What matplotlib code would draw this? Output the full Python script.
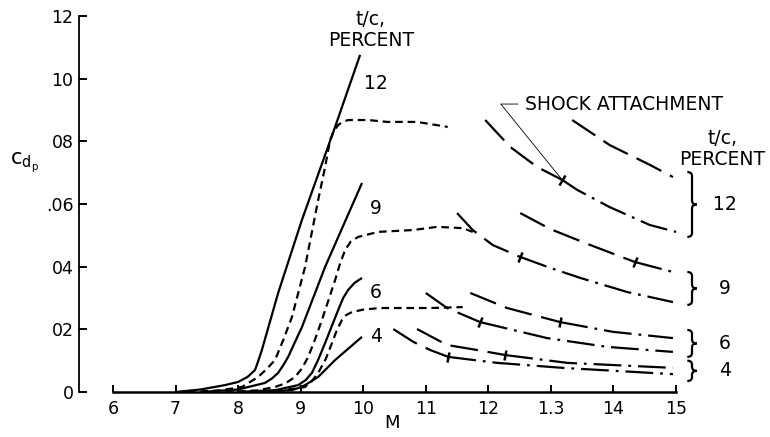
import numpy as np
import matplotlib
matplotlib.use('Agg')
import matplotlib.pyplot as plt
from matplotlib.markers import MarkerStyle
from matplotlib.transforms import Affine2D
from matplotlib.path import Path
from matplotlib.patches import PathPatch

plt.rcParams['font.family'] = ['DejaVu Sans']
plt.rcParams['mathtext.fontset'] = 'dejavusans'
plt.rcParams['lines.scale_dashes'] = False

# ---------------- data ----------------
x_ticks = [0.6, 0.7, 0.8, 0.9, 1.0, 1.1, 1.2, 1.3, 1.4, 1.5]
x_tick_labels = ['6', '7', '8', '9', '10', '11', '12', '1.3', '14', '15']
y_ticks = [0.0, 0.02, 0.04, 0.06, 0.08, 0.10, 0.12]
y_tick_labels = ['0', '02', '04', '.06', '08', '10', '12']

# subsonic, solid
m_solid_12 = [0.70, 0.74, 0.779, 0.800, 0.815, 0.827, 0.832, 0.838, 0.864, 0.902, 0.955, 0.995]
c_solid_12 = [0.0, 0.0008, 0.0022, 0.0032, 0.0048, 0.0070, 0.0098, 0.0134, 0.0316, 0.0549,
              0.0846, 0.1076]
m_solid_9 = [0.74, 0.80, 0.843, 0.854, 0.864, 0.872, 0.880, 0.891, 0.902, 0.939, 0.998]
c_solid_9 = [0.0, 0.0008, 0.0029, 0.0043, 0.0061, 0.0085, 0.0112, 0.0160, 0.0207, 0.0399, 0.0667]
m_solid_6 = [0.80, 0.86, 0.896, 0.908, 0.918, 0.928, 0.939, 0.960, 0.968, 0.976, 0.986, 0.998]
c_solid_6 = [0.0, 0.0006, 0.0022, 0.0038, 0.0061, 0.0103, 0.0156, 0.0262, 0.0300, 0.0326,
             0.0348, 0.0364]
m_solid_4 = [0.82, 0.886, 0.897, 0.907, 0.928, 0.955, 0.998]
c_solid_4 = [0.0, 0.0006, 0.0013, 0.0022, 0.0048, 0.0102, 0.0176]

# subsonic, dashed
m_dash_12 = [0.72, 0.77, 0.806, 0.832, 0.845, 0.859, 0.872, 0.886, 0.907, 0.928, 0.939, 0.947,
             0.953, 0.960, 0.967, 0.976, 1.008, 1.038, 1.086, 1.135]
c_dash_12 = [0.0, 0.0005, 0.0016, 0.0048, 0.0072, 0.0102, 0.0165, 0.0239, 0.0399, 0.0613,
             0.0718, 0.0804, 0.0833, 0.0852, 0.0862, 0.0868, 0.0868, 0.0862, 0.0862, 0.0846]
m_dash_9 = [0.78, 0.83, 0.859, 0.876, 0.891, 0.902, 0.912, 0.923, 0.934, 0.955, 0.963, 0.971,
            0.980, 0.992, 1.024, 1.080, 1.118, 1.159, 1.175]
c_dash_9 = [0.0, 0.0005, 0.0016, 0.0028, 0.0048, 0.0075, 0.0112, 0.0168, 0.0230, 0.0357,
            0.0410, 0.0453, 0.0480, 0.0495, 0.0511, 0.0517, 0.0527, 0.0523, 0.0511]
m_dash_6 = [0.82, 0.87, 0.907, 0.918, 0.928, 0.940, 0.950, 0.958, 0.966, 0.973, 0.982, 1.000,
            1.027, 1.107, 1.159]
c_dash_6 = [0.0, 0.0005, 0.0016, 0.0035, 0.0061, 0.0105, 0.0156, 0.0198, 0.0230, 0.0246,
            0.0255, 0.0263, 0.0268, 0.0268, 0.0271]

# supersonic curves (A = left family, B = right family)
m_sup_12a = [1.195, 1.235, 1.278, 1.318, 1.342, 1.394, 1.458, 1.500]
c_sup_12a = [0.0868, 0.0782, 0.0718, 0.0677, 0.0645, 0.0590, 0.0533, 0.0511]
m_sup_12b = [1.334, 1.394, 1.458, 1.495]
c_sup_12b = [0.0868, 0.0788, 0.0725, 0.0686]
m_sup_9a = [1.150, 1.175, 1.207, 1.251, 1.299, 1.347, 1.422, 1.495]
c_sup_9a = [0.0571, 0.0517, 0.0469, 0.0431, 0.0396, 0.0364, 0.0319, 0.0287]
m_sup_9b = [1.251, 1.299, 1.363, 1.434, 1.495]
c_sup_9b = [0.0571, 0.0520, 0.0469, 0.0415, 0.0383]
m_sup_6a = [1.100, 1.134, 1.187, 1.294, 1.390, 1.495]
c_sup_6a = [0.0316, 0.0268, 0.0223, 0.0172, 0.0144, 0.0128]
m_sup_6b = [1.171, 1.230, 1.315, 1.399, 1.495]
c_sup_6b = [0.0316, 0.0268, 0.0223, 0.0192, 0.0172]
m_sup_4a = [1.048, 1.080, 1.107, 1.136, 1.214, 1.319, 1.495]
c_sup_4a = [0.0201, 0.0160, 0.0134, 0.0112, 0.0093, 0.0077, 0.0057]
m_sup_4b = [1.086, 1.134, 1.182, 1.227, 1.326, 1.495]
c_sup_4b = [0.0201, 0.0150, 0.0134, 0.0118, 0.0093, 0.0077]

# shock attachment Mach numbers (None = beyond chart)
shock_12a, shock_12b = 1.318, None
shock_9a, shock_9b = 1.251, 1.434
shock_6a, shock_6b = 1.187, 1.315
shock_4a, shock_4b = 1.136, 1.227

# right-hand brackets: (label, bottom cdp, top cdp)
bracket_labels = ['12', '9', '6', '4']
bracket_bottoms = [0.0495, 0.0278, 0.0112, 0.0035]
bracket_tops = [0.0702, 0.0383, 0.0198, 0.0100]

# ---------------- figure ----------------
W, H, DPI = 770, 437, 100
fig = plt.figure(figsize=(W / DPI, H / DPI), dpi=DPI)
ax = fig.add_axes([79 / W, 1 - 392 / H, 601 / W, 376 / H])
ax.set_xlim(0.5457, 1.5063)
ax.set_ylim(0.0, 0.12)

LW = 1.6
SHORT = (5.5, 3.5)
LONG = (20, 7)
DASHDOT = (20, 5, 2, 5)

for m, c in [(m_solid_12, c_solid_12), (m_solid_9, c_solid_9),
             (m_solid_6, c_solid_6), (m_solid_4, c_solid_4)]:
    ax.plot(m, c, color='black', lw=LW, solid_capstyle='butt', solid_joinstyle='round')

for m, c in [(m_dash_12, c_dash_12), (m_dash_9, c_dash_9), (m_dash_6, c_dash_6)]:
    ax.plot(m, c, color='black', lw=LW, dashes=SHORT)

sup = [(m_sup_12a, c_sup_12a, shock_12a), (m_sup_12b, c_sup_12b, shock_12b),
       (m_sup_9a, c_sup_9a, shock_9a), (m_sup_9b, c_sup_9b, shock_9b),
       (m_sup_6a, c_sup_6a, shock_6a), (m_sup_6b, c_sup_6b, shock_6b),
       (m_sup_4a, c_sup_4a, shock_4a), (m_sup_4b, c_sup_4b, shock_4b)]

for m, c, ms in sup:
    m = np.asarray(m)
    c = np.asarray(c)
    if ms is None:
        ax.plot(m, c, color='black', lw=LW, dashes=LONG)
        continue
    k = int(np.argmin(np.abs(m - ms)))
    ax.plot(m[:k + 1], c[:k + 1], color='black', lw=LW, dashes=LONG)
    ax.plot(m[k:], c[k:], color='black', lw=LW, dashes=DASHDOT)
    # tick marker perpendicular to the curve
    p0 = ax.transData.transform((m[k - 1], c[k - 1]))
    p1 = ax.transData.transform((m[k + 1], c[k + 1]))
    ang = np.degrees(np.arctan2(p1[1] - p0[1], p1[0] - p0[0]))
    mk = MarkerStyle('|', transform=Affine2D().rotate_deg(ang))
    ax.plot([m[k]], [c[k]], marker=mk, color='black', markersize=8, mew=1.8,
            linestyle='none')

# axes styling
for s in ['top', 'right']:
    ax.spines[s].set_visible(False)
ax.spines['left'].set_bounds(0.0, 0.12)
ax.spines['bottom'].set_bounds(0.6, 1.5)
ax.spines['left'].set_linewidth(1.3)
ax.spines['bottom'].set_linewidth(1.8)
ax.set_xticks(x_ticks)
ax.set_xticklabels(x_tick_labels)
ax.set_yticks(y_ticks)
ax.set_yticklabels(y_tick_labels)
ax.tick_params(axis='x', direction='in', length=5, width=1.4, pad=6, labelsize=12.5)
ax.tick_params(axis='y', direction='in', length=6, width=1.4, pad=4, labelsize=12.5)

ax.set_xlabel('M', fontsize=13)
ax.xaxis.set_label_coords(0.521, -0.082)
ax.xaxis.label.set_va('center')
ax.set_ylabel(r'$\mathregular{c_{d_p}}$', fontsize=15, rotation=0)
ax.yaxis.set_label_coords(-0.09, 0.61)
ax.yaxis.label.set_va('center')

# curve labels (left)
FS = 13.5
ax.text(1.012, 0.1155, 't/c,\nPERCENT', ha='center', va='center', fontsize=FS,
        linespacing=1.1, clip_on=False)
for lab, yv in zip(['12', '9', '6', '4'], [0.0986, 0.0587, 0.0319, 0.0176]):
    ax.text(1.020, yv, lab, ha='center', va='center', fontsize=FS)

# shock attachment annotation
ax.annotate('SHOCK ATTACHMENT', xy=(shock_12a, 0.0677), xytext=(1.2586, 0.0919),
            ha='left', va='center', fontsize=FS,
            arrowprops=dict(arrowstyle='-', lw=0.6, color='black', relpos=(0, 0.5),
                            shrinkA=3, shrinkB=0,
                            connectionstyle='angle,angleA=0,angleB=-51,rad=0'))

# right-hand legend brackets
ax.text(1.574, 0.0775, 't/c,\nPERCENT', ha='center', va='center', fontsize=FS,
        linespacing=1.1, clip_on=False)


def brace(x, y0, y1):
    w = 0.0075
    r = 0.0013
    ym = 0.5 * (y0 + y1)
    verts = [(x - w, y1), (x, y1), (x, y1 - r), (x, ym + r), (x, ym), (x + w, ym),
             (x, ym), (x, ym - r), (x, y0 + r), (x, y0), (x - w, y0)]
    codes = [Path.MOVETO, Path.CURVE3, Path.CURVE3, Path.LINETO, Path.CURVE3, Path.CURVE3,
             Path.CURVE3, Path.CURVE3, Path.LINETO, Path.CURVE3, Path.CURVE3]
    ax.add_patch(PathPatch(Path(verts, codes), fill=False, lw=1.6, color='black',
                           clip_on=False))


for lab, b, t in zip(bracket_labels, bracket_bottoms, bracket_tops):
    brace(1.5255, b, t)
    ax.text(1.578, 0.5 * (b + t), lab, ha='center', va='center', fontsize=FS,
            clip_on=False)

fig.savefig('out.png', dpi=DPI)
